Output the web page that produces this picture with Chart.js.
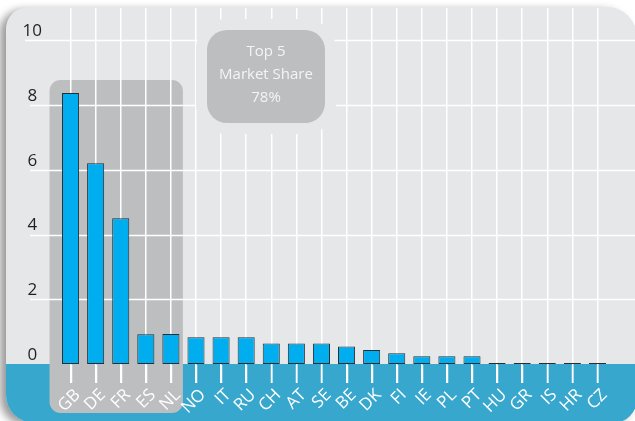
<!DOCTYPE html>
<html lang="en">
<head>
  <meta charset="UTF-8">
  <title>Market Share by Country</title>
  <script src="https://cdn.jsdelivr.net/npm/chart.js"></script>
  <style>
    body {
      margin: 0;
      background: #ffffff;
    }
    canvas {
      display: block;
    }
  </style>
</head>
<body>

<canvas id="chartShare" width="635" height="421"></canvas>

<script>
  const countries = ["GB", "DE", "FR", "ES", "NL", "NO", "IT", "RU", "CH", "AT", "SE",
                     "BE", "DK", "FI", "IE", "PL", "PT", "HU", "GR", "IS", "HR", "CZ"];
  const shares = [8.37, 6.2, 4.5, 0.92, 0.93, 0.83, 0.83, 0.83, 0.63, 0.63, 0.63,
                  0.54, 0.43, 0.33, 0.24, 0.24, 0.24, 0.03, 0.03, 0.03, 0.03, 0.03];
  const yTicks = [0, 2, 4, 6, 8, 10];
  const topCount = 5;
  const boxLines = ["Top 5", "Market Share", "78%"];

  const PANEL = "#e6e7e8";
  const BAND = "#38a7cd";
  const HILITE = "#bcbec0";

  function panelPath(ctx) {
    ctx.beginPath();
    ctx.roundRect(6, 7, 631, 416, [22, 30, 24, 28]);
  }

  const backdrop = {
    id: "backdrop",
    // panel, blue label band, top-5 highlight and horizontal grid lines
    beforeDraw(chart) {
      const ctx = chart.ctx;
      const x = chart.scales.x, y = chart.scales.y;
      const area = chart.chartArea;
      ctx.save();
      ctx.fillStyle = "#ffffff";
      ctx.fillRect(0, 0, chart.width, chart.height);

      ctx.save();
      ctx.shadowColor = "rgba(0,0,0,0.4)";
      ctx.shadowBlur = 9;
      ctx.shadowOffsetX = -6;
      ctx.shadowOffsetY = 3;
      panelPath(ctx);
      ctx.fillStyle = PANEL;
      ctx.fill();
      ctx.restore();

      panelPath(ctx);
      ctx.clip();
      ctx.fillStyle = BAND;
      ctx.fillRect(0, area.bottom, chart.width, chart.height - area.bottom);

      // highlight behind the five largest markets
      const hx0 = x.getPixelForValue(0) - 21;
      const hx1 = x.getPixelForValue(topCount - 1) + 12;
      const hy0 = y.getPixelForValue(shares[0]) - 13;
      ctx.beginPath();
      ctx.roundRect(hx0, hy0, hx1 - hx0, 413 - hy0, 11);
      ctx.fillStyle = HILITE;
      ctx.fill();

      ctx.strokeStyle = "#ffffff";
      ctx.lineWidth = 1.5;
      yTicks.slice(1).forEach(v => {
        const py = Math.round(y.getPixelForValue(v)) + 0.5;
        ctx.beginPath();
        ctx.moveTo(v === 10 ? 25 : 30, py);
        ctx.lineTo(chart.width, py);
        ctx.stroke();
      });
      ctx.restore();
    },
    // callout box, with a gap cut into the grid around it
    beforeDatasetsDraw(chart) {
      const ctx = chart.ctx;
      ctx.save();
      ctx.beginPath();
      ctx.roundRect(207, 30, 118, 93, 20);
      ctx.strokeStyle = PANEL;
      ctx.lineWidth = 22;
      ctx.stroke();
      ctx.fillStyle = HILITE;
      ctx.fill();
      ctx.fillStyle = "#f4f4f5";
      ctx.font = "15px 'Open Sans'";
      ctx.textAlign = "center";
      ctx.textBaseline = "middle";
      boxLines.forEach((t, i) => ctx.fillText(t, 266, 52 + i * 23));
      ctx.restore();
    },
    // short white ticks down into the label band
    afterDraw(chart) {
      const ctx = chart.ctx;
      const x = chart.scales.x;
      const area = chart.chartArea;
      ctx.save();
      ctx.strokeStyle = "#ffffff";
      ctx.lineWidth = 1.5;
      countries.forEach((c, i) => {
        const px = Math.round(x.getPixelForValue(i)) + 0.5;
        ctx.beginPath();
        ctx.moveTo(px, area.bottom + 1);
        ctx.lineTo(px, area.bottom + 19);
        ctx.stroke();
      });
      ctx.restore();
    }
  };

  new Chart(document.getElementById("chartShare"), {
    type: "bar",
    data: {
      labels: countries,
      datasets: [{
        label: "Market share",
        data: shares,
        backgroundColor: "#00aeef",
        borderColor: "#2a2d30",
        borderWidth: 1,
        borderSkipped: false,
        barPercentage: 0.68,
        categoryPercentage: 1
      }]
    },
    options: {
      responsive: false,
      animation: false,
      devicePixelRatio: 1,
      layout: { padding: { top: 8, right: 25, bottom: 0, left: 0 } },
      plugins: { legend: { display: false }, tooltip: { enabled: false } },
      scales: {
        x: {
          afterFit(s) { s.height = 57; },
          border: { display: false },
          grid: {
            offset: false,
            color: "#ffffff",
            lineWidth: 1.5,
            tickLength: 19
          },
          ticks: {
            autoSkip: false,
            minRotation: 45,
            maxRotation: 45,
            padding: 2,
            labelOffset: 7,
            color: "#ffffff",
            font: { family: "'Open Sans'", size: 17 }
          }
        },
        y: {
          min: 0,
          max: 11,
          afterFit(s) {
            s.width = 58;
            s.paddingTop = 0;
            s.paddingBottom = 0;
          },
          afterBuildTicks(s) { s.ticks = yTicks.map(v => ({ value: v })); },
          border: { display: false },
          grid: { display: false, drawTicks: false },
          ticks: {
            crossAlign: "center",
            padding: 16,
            labelOffset: -9,
            color: "#231f20",
            font: { family: "'Open Sans'", size: 17 }
          }
        }
      }
    },
    plugins: [backdrop]
  });
</script>

</body>
</html>
